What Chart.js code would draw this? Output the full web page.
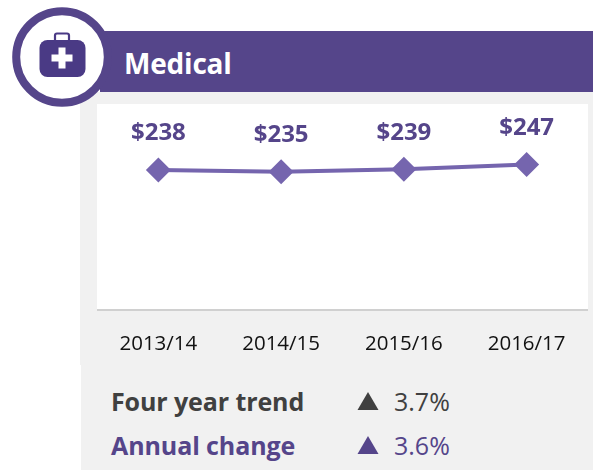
<!DOCTYPE html>
<html><head><meta charset="utf-8">
<script src="https://cdn.jsdelivr.net/npm/chart.js@4"></script>
<style>
html,body{margin:0;padding:0;background:#fff;overflow:hidden}
body{width:593px;height:470px;position:relative;font-family:"Open Sans",sans-serif}
.abs{position:absolute}
#panel{left:80px;top:92px;width:513px;height:273px;background:#f1f1f1}
#panel2{left:81px;top:365px;width:512px;height:105px;background:#f1f1f1}
#plotbg{left:97px;top:104px;width:491px;height:206px;background:#fff}
#band{left:100px;top:31px;width:493px;height:61px;background:#55458a}
#title{left:124px;top:44px;color:#fff;font-size:28px;font-weight:700;line-height:38px;letter-spacing:-.2px}
#wrap{left:97px;top:104px;width:491px;height:260px}
.lbl{font-size:25px;font-weight:700;line-height:32px;white-space:nowrap;letter-spacing:-.1px}
.val{font-size:25px;line-height:32px;white-space:nowrap}
.grey{color:#404040}.purple{color:#55458a}
</style></head><body>
<div class="abs" id="panel"></div>
<div class="abs" id="panel2"></div>
<div class="abs" id="plotbg"></div>
<div class="abs" id="band"></div>
<svg class="abs" style="left:0;top:0" width="120" height="110" viewBox="0 0 120 110">
<circle cx="62" cy="57" r="45.800" fill="#fff" stroke="#55458a" stroke-width="8"/>
<path d="M55 41v-5.500q0-2 2-2h10q2 0 2 2V41" fill="none" stroke="#4a3a85" stroke-width="2.200"/>
<rect x="39.500" y="40" width="46" height="37" rx="8" fill="#4a3a85"/>
<path d="M58.500 47.500h7v7h7v7h-7v7h-7v-7h-7v-7h7z" fill="#fff"/>
</svg>
<div class="abs" id="title">Medical</div>
<div class="abs" id="wrap"><canvas id="c" width="491" height="260"></canvas></div>
<div class="abs lbl grey" style="left:111px;top:385px">Four year trend</div>
<div class="abs lbl purple" style="left:111px;top:429px">Annual change</div>
<svg class="abs" style="left:357px;top:392px" width="23" height="64">
<path d="M0.500 18L11 0L21.500 18z" fill="#404040"/><path d="M0.500 62L11 44L21.500 62z" fill="#55458a"/></svg>
<div class="abs val grey" style="left:394px;top:385px">3.7%</div>
<div class="abs val purple" style="left:394px;top:429px">3.6%</div>
<script>
const categories = ["2013/14","2014/15","2015/16","2016/17"];
const spending = [238,235,239,247];
const valueLabels = ["$238","$235","$239","$247"];
const labelPlugin = {
  id:'valueLabels',
  afterDatasetsDraw(chart){
    const {ctx} = chart;
    const pts = chart.getDatasetMeta(0).data;
    ctx.save();
    ctx.font = '700 24px "Open Sans"';
    ctx.fillStyle = '#55458a';
    ctx.textAlign = 'center';
    ctx.textBaseline = 'middle';
    pts.forEach((p,i)=>ctx.fillText(valueLabels[i], p.x, p.y-36.5));
    ctx.restore();
  }
};
new Chart(document.getElementById('c'),{
  type:'line',
  data:{labels:categories,datasets:[{
    data:spending,borderColor:'#7565ae',borderWidth:4,tension:0,
    pointStyle:'rectRot',pointRadius:12.5,pointBackgroundColor:'#7565ae',pointBorderColor:'#7565ae',pointBorderWidth:0
  }]},
  options:{
    responsive:false,animation:false,
    layout:{padding:0,autoPadding:false},
    plugins:{legend:{display:false},title:{display:false},tooltip:{enabled:false}},
    scales:{
      y:{display:false,min:0,max:350},
      x:{offset:true,
        afterFit(s){s.height=54;},
        grid:{display:false,drawTicks:false},
        border:{display:true,color:'#d0d0d0',width:2},
        ticks:{color:'#111111',font:{family:'"Open Sans"',size:20.5},padding:22,maxRotation:0}
      }
    }
  },
  plugins:[labelPlugin]
});
</script>
</body></html>
